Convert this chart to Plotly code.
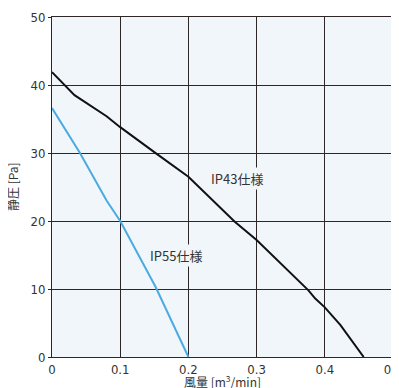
import plotly.graph_objects as go

ip43_x = [0.0, 0.033, 0.080, 0.100, 0.153, 0.200, 0.268, 0.300, 0.376, 0.386, 0.400, 0.423, 0.457]
ip43_y = [41.9, 38.5, 35.4, 33.8, 29.9, 26.5, 19.9, 17.2, 9.8, 8.6, 7.3, 4.7, 0.0]
ip55_x = [0.0, 0.041, 0.080, 0.100, 0.152, 0.200]
ip55_y = [36.6, 30.0, 23.0, 20.0, 10.3, 0.0]

x_ticks = [0, 0.1, 0.2, 0.3, 0.4, 0.5]
x_labels = ["0", "0.1", "0.2", "0.3", "0.4", "0.5"]
y_ticks = [0, 10, 20, 30, 40, 50]

font_tick = "DejaVu Sans Condensed, Roboto, sans-serif"
font_jp = "Noto Sans CJK JP"
bg = "#f1f6fb"
grid = "#2e2626"
txt = "#333333"

fig = go.Figure()
fig.add_trace(go.Scatter(x=ip43_x, y=ip43_y, mode="lines",
                         line=dict(color="#111111", width=2), showlegend=False))
fig.add_trace(go.Scatter(x=ip55_x, y=ip55_y, mode="lines",
                         line=dict(color="#4aaae2", width=2), showlegend=False))

fig.add_annotation(x=0.182, y=15.0, text="IP55仕様", showarrow=False,
                   bgcolor=bg, font=dict(size=13, color=txt, family=font_jp))
fig.add_annotation(x=0.271, y=26.3, text="IP43仕様", showarrow=False,
                   bgcolor=bg, font=dict(size=13, color=txt, family=font_jp))

# axis titles
fig.add_annotation(x=0.5, y=0, xref="paper", yref="paper", yanchor="middle",
                   yshift=-24, text="風量 [m<sup>3</sup>/min]", showarrow=False,
                   font=dict(size=12, color=txt, family=font_jp))
fig.add_annotation(x=0, y=0.5, xref="paper", yref="paper", xanchor="center",
                   xshift=-40, text="静圧 [Pa]", textangle=-90, showarrow=False,
                   font=dict(size=12, color=txt, family=font_jp))

fig.update_layout(
    width=391, height=380,
    margin=dict(l=44, r=6, t=9, b=31, autoexpand=False),
    paper_bgcolor="white", plot_bgcolor=bg,
    font=dict(family=font_tick, size=13, color=txt),
    xaxis=dict(range=[0, 0.5], tickvals=x_ticks, ticktext=x_labels,
               showgrid=True, gridcolor=grid, gridwidth=1, zeroline=False,
               showline=True, linecolor=grid, linewidth=1, mirror=True,
               ticks="", automargin=False, ticklabeloverflow="allow"),
    yaxis=dict(range=[0, 50], tickvals=y_ticks,
               showgrid=True, gridcolor=grid, gridwidth=1, zeroline=False,
               showline=True, linecolor=grid, linewidth=1, mirror=True,
               ticks="outside", ticklen=3, tickcolor=grid, automargin=False,
               ticklabeloverflow="allow"),
)

fig.write_html("out.html")
